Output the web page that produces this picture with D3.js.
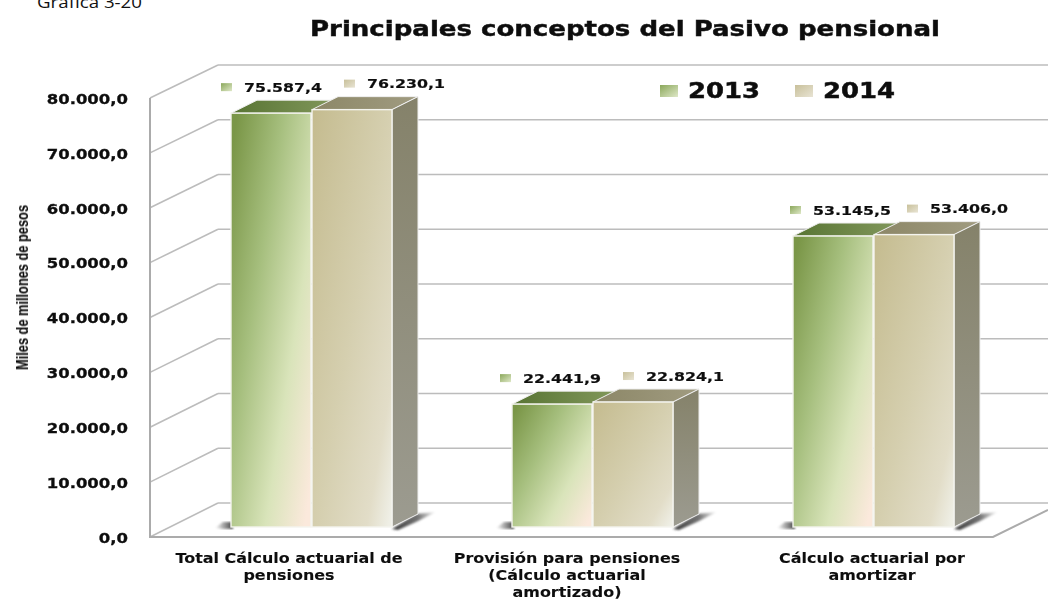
<!DOCTYPE html>
<html><head><meta charset="utf-8">
<script src="https://cdn.jsdelivr.net/npm/d3@7"></script>
<style>html,body{margin:0;padding:0;background:#fff}svg{display:block}text{fill:#111}</style>
</head><body><svg id="c" width="1048" height="600"></svg>
<script>
const chartTitle = "Principales conceptos del Pasivo pensional";
const figureNote = "Gráfica 3-20";
const axisTitle = "Miles de millones de pesos";
const categories = ["Total Cálculo actuarial de pensiones","Provisión para pensiones (Cálculo actuarial amortizado)","Cálculo actuarial por amortizar"];
const categoryLines = [["Total Cálculo actuarial de","pensiones"],["Provisión para pensiones","(Cálculo actuarial","amortizado)"],["Cálculo actuarial por","amortizar"]];
const seriesNames = ["2013","2014"];
const values2013 = [75587.4,22441.9,53145.5];
const values2014 = [76230.1,22824.1,53406.0];
const valueLabels2013 = ["75.587,4","22.441,9","53.145,5"];
const valueLabels2014 = ["76.230,1","22.824,1","53.406,0"];
const tickValues = [0,10000,20000,30000,40000,50000,60000,70000,80000];
const tickLabels = ["0,0","10.000,0","20.000,0","30.000,0","40.000,0","50.000,0","60.000,0","70.000,0","80.000,0"];

const svg = d3.select("#c");
const defs = svg.append("defs");
function grad(id, stops, x1=0,y1=0,x2=1,y2=1){
  const g = defs.append("linearGradient").attr("id",id).attr("x1",x1).attr("y1",y1).attr("x2",x2).attr("y2",y2);
  stops.forEach(s=>g.append("stop").attr("offset",s[0]).attr("stop-color",s[1]));
}
grad("gFront",[[0,"#7a9647"],[0.35,"#a6bf7e"],[0.7,"#d9e4ba"],[1,"#fbe9dc"]],0,0.1,1,0.9);
grad("tFront",[[0,"#c5bc90"],[0.5,"#d5cfaf"],[0.85,"#e2ddc8"],[1,"#efefe6"]],0,0.05,1,0.95);
grad("gTop",[[0,"#587433"],[1,"#82985c"]],0,0,1,0);
grad("tTop",[[0,"#8c8767"],[1,"#a09b80"]],0,0,1,0);
grad("side",[[0,"#85826a"],[1,"#9c9b90"]],0,0,0,1);
grad("gSw",[[0,"#8aa75a"],[1,"#dfe8c8"]],0,0,1,1);
grad("tSw",[[0,"#c8c09a"],[1,"#e8e4d4"]],0,0,1,1);
grad("shadow",[[0,"#3a3a3a"],[0.6,"#777"],[1,"#fff"]],0,0,1,0);
grad("shadowL",[[0,"#fff"],[1,"#444"]],0,0,1,0);
defs.append("filter").attr("id","soft").append("feGaussianBlur").attr("stdDeviation",0.5);
defs.append("filter").attr("id","blur3").append("feGaussianBlur").attr("stdDeviation",1);

const frontY = d3.scaleLinear().domain([0,80000]).range([537,98]);
const backY = d3.scaleLinear().domain([0,80000]).range([503,65]);
const barY = d3.scaleLinear().domain([0,80000]).range([527,89]);
const barW = 80, depth = {x:26,y:-13};
const bold = "'DejaVu Sans',sans-serif";
const centre = i => [311,592,873][i];

// stretch a text horizontally to the wide, flattened look of the source picture
function stretch(sel, k){
  sel.each(function(){
    const w = this.getComputedTextLength();
    d3.select(this).attr("textLength",w*k).attr("lengthAdjust","spacingAndGlyphs");
  });
  return sel;
}
function heavy(sel, sw){ return sel.attr("stroke","#111").attr("stroke-width",sw).attr("filter","url(#soft)"); }

const grid = svg.append("g").attr("fill","none").attr("stroke","#bcbcbc").attr("stroke-width",1.6);
tickValues.forEach(v=>{
  grid.append("line").attr("x1",218).attr("x2",1048).attr("y1",backY(v)).attr("y2",backY(v));
  grid.append("line").attr("x1",150).attr("x2",218).attr("y1",frontY(v)).attr("y2",backY(v));
});
svg.append("path").attr("fill","none").attr("stroke","#ababab").attr("stroke-width",2)
  .attr("d",d3.line()([[150,98],[150,537],[993,537],[1048,510]]));

// axis
const ax = svg.append("g").attr("transform","translate(128,1)")
  .call(d3.axisLeft(frontY).tickValues(tickValues).tickSize(0).tickPadding(0)
    .tickFormat((d,i)=>tickLabels[i]));
ax.select(".domain").remove();
ax.selectAll("text").attr("font-family",bold).attr("font-weight","bold").attr("font-size",13.4).attr("fill","#111");
stretch(ax.selectAll("text"),1.23);
heavy(ax.selectAll("text"),0.3);

// bars
const offsets2013=[13,11,20], offsets2014=[55,53,56], swGap=23;
categories.forEach((c,i)=>{
  const x0 = centre(i)-barW;
  const g = svg.append("g");
  const R = x0+2*barW+1;
  g.append("path").attr("filter","url(#blur3)").attr("fill","url(#shadow)")
    .attr("d",d3.line()([[R,529],[R+24,514],[R+44,512],[R+24,522],[R+6,530]])+"Z");
  g.append("path").attr("filter","url(#blur3)").attr("fill","url(#shadowL)")
    .attr("d",d3.line()([[x0-16,528],[x0-8,522],[x0+2,522],[x0+2,529],[x0-8,529]])+"Z");
  [[values2013[i],x0,"gFront","gTop",false],[values2014[i],x0+barW+1,"tFront","tTop",true]].forEach(s=>{
    const [v,bx,fr,tp,hasSide]=s, top=barY(v), w=hasSide?barW:barW+1;
    g.append("path").attr("fill",`url(#${tp})`).attr("stroke","#eee").attr("stroke-width",1)
      .attr("d",d3.line()([[bx,top],[bx+depth.x,top+depth.y],[bx+w+depth.x,top+depth.y],[bx+w,top]])+"Z");
    if(hasSide) g.append("path").attr("fill","url(#side)").attr("stroke","#eee").attr("stroke-width",1)
      .attr("d",d3.line()([[bx+w,top],[bx+w+depth.x,top+depth.y],[bx+w+depth.x,barY(0)+depth.y],[bx+w,barY(0)]])+"Z");
  });
  [[values2013[i],x0,"gFront"],[values2014[i],x0+barW+1,"tFront"]].forEach(s=>{
    g.append("rect").attr("x",s[1]).attr("width",barW).attr("y",barY(s[0]))
      .attr("height",barY(0)-barY(s[0])).attr("fill",`url(#${s[2]})`).attr("stroke","#f4f4ee").attr("stroke-width",1.4);
  });
  // value labels
  [[values2013[i],valueLabels2013[i],x0+offsets2013[i],"gSw"],[values2014[i],valueLabels2014[i],x0+barW+1+offsets2014[i],"tSw"]].forEach(s=>{
    const ly = barY(s[0])-26;
    svg.append("rect").attr("x",s[2]-swGap).attr("y",ly-4).attr("width",11).attr("height",8).attr("fill",`url(#${s[3]})`);
    const t = svg.append("text").attr("x",s[2]).attr("y",ly).attr("dy","0.36em").attr("font-family",bold).attr("font-weight","bold")
      .attr("font-size",13).attr("textLength",78).attr("lengthAdjust","spacingAndGlyphs").text(s[1]);
    heavy(t,0.2);
  });
  // category labels
  categoryLines[i].forEach((l,k)=>{
    const t = svg.append("text").attr("text-anchor","middle").attr("font-family",bold).attr("font-weight","bold")
      .attr("font-size",13.4).attr("x",[289,567,872][i]).attr("y",562.5+k*17.3).text(l);
    stretch(t,1.19); heavy(t,0.1);
  });
});

// title etc
heavy(svg.append("text").attr("x",310).attr("y",36).attr("font-family",bold).attr("font-weight","bold")
  .attr("font-size",21).attr("textLength",630).attr("lengthAdjust","spacingAndGlyphs").text(chartTitle),0.45);
svg.append("text").attr("x",37).attr("y",8).attr("font-family","'Open Sans',sans-serif").attr("font-size",15.5)
  .attr("textLength",105).attr("lengthAdjust","spacingAndGlyphs").attr("fill","#222").text(figureNote);
heavy(svg.append("text").attr("transform","translate(28,287.5) rotate(-90)").attr("text-anchor","middle")
  .attr("font-family","'Liberation Sans Narrow','Liberation Sans',sans-serif").attr("font-weight","bold").attr("font-size",17)
  .attr("textLength",165).attr("lengthAdjust","spacingAndGlyphs").text(axisTitle),0.15);

// legend
[[660,688,"gSw",0],[795,823,"tSw",1]].forEach(l=>{
  svg.append("rect").attr("x",l[0]).attr("y",85).attr("width",18).attr("height",12).attr("fill",`url(#${l[2]})`);
  heavy(svg.append("text").attr("x",l[1]).attr("y",98).attr("font-family",bold).attr("font-weight","bold").attr("font-size",21)
    .attr("textLength",72).attr("lengthAdjust","spacingAndGlyphs").text(seriesNames[l[3]]),0.5);
});
</script></body></html>
